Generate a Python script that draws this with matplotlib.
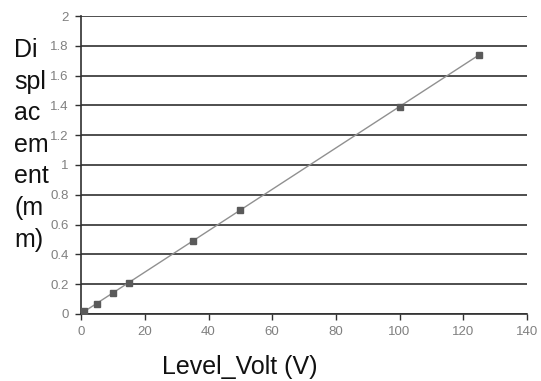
import numpy as np
import matplotlib.pyplot as plt

volts = [1, 5, 10, 15, 35, 50, 100, 125]
disp = [0.02, 0.07, 0.14, 0.21, 0.49, 0.70, 1.39, 1.74]
xticks = [0, 20, 40, 60, 80, 100, 120, 140]
yticks = [0, 0.2, 0.4, 0.6, 0.8, 1, 1.2, 1.4, 1.6, 1.8, 2]
ylabel = "Di\nspl\nac\nem\nent\n(m\nm)"
xlabel = "Level_Volt (V)"

plt.rcParams['font.family'] = ['Liberation Sans', 'DejaVu Sans']

fig = plt.figure(figsize=(5.41, 3.81), dpi=100)
ax = fig.add_axes([0.150, 0.176, 0.824, 0.782])

# linear trendline
k, b = np.polyfit(volts, disp, 1)
xs = np.array([min(volts), max(volts)])
ax.plot(xs, k * xs + b, color='#909090', lw=1.0, zorder=2)
ax.plot(volts, disp, ls='none', marker='s', ms=5, color='#5a5a5a', zorder=3)

ax.set_xlim(0, 140)
ax.set_ylim(0, 2)
ax.set_xticks(xticks)
ax.set_yticks(yticks)
ax.set_xticklabels([str(t) for t in xticks])
ax.set_yticklabels(['0', '0.2', '0.4', '0.6', '0.8', '1', '1.2', '1.4', '1.6', '1.8', '2'])
ax.tick_params(labelsize=9.5, colors='#808080', length=4, width=1, pad=5)
ax.tick_params(axis='both', color='#303030')
ax.yaxis.grid(True, color='#303030', lw=1.2)
ax.set_axisbelow(True)
for s in ['top', 'right']:
    ax.spines[s].set_visible(False)
for s in ['left', 'bottom']:
    ax.spines[s].set_color('#303030')
    ax.spines[s].set_linewidth(1.2)

fig.text(0.026, 0.62, ylabel, fontsize=18, ha='left', va='center', linespacing=1.4, color='#111111')
fig.text(0.443, 0.037, xlabel, fontsize=18, ha='center', va='center', color='#111111')

fig.savefig('out.png', dpi=100)
